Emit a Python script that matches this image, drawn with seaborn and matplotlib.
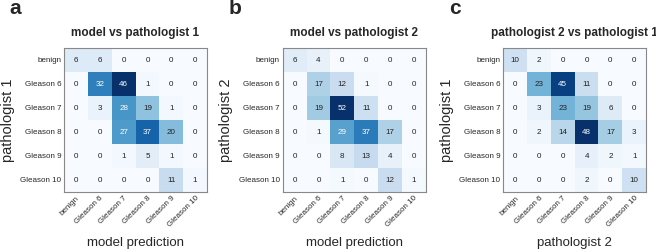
import matplotlib
matplotlib.use("Agg")
import matplotlib.pyplot as plt
import numpy as np
import seaborn as sns

# %% data
grades = ["benign", "Gleason 6", "Gleason 7", "Gleason 8", "Gleason 9", "Gleason 10"]

model_vs_path1 = [
    [6, 6, 0, 0, 0, 0],
    [0, 32, 46, 1, 0, 0],
    [0, 3, 28, 19, 1, 0],
    [0, 0, 27, 37, 20, 0],
    [0, 0, 1, 5, 1, 0],
    [0, 0, 0, 0, 11, 1],
]
model_vs_path2 = [
    [6, 4, 0, 0, 0, 0],
    [0, 17, 12, 1, 0, 0],
    [0, 19, 52, 11, 0, 0],
    [0, 1, 29, 37, 17, 0],
    [0, 0, 8, 13, 4, 0],
    [0, 0, 1, 0, 12, 1],
]
path2_vs_path1 = [
    [10, 2, 0, 0, 0, 0],
    [0, 23, 45, 11, 0, 0],
    [0, 3, 23, 19, 6, 0],
    [0, 2, 14, 48, 17, 3],
    [0, 0, 0, 4, 2, 1],
    [0, 0, 0, 2, 0, 10],
]

panels = [
    ("a", "model vs pathologist 1", model_vs_path1, "model prediction", "pathologist 1"),
    ("b", "model vs pathologist 2", model_vs_path2, "model prediction", "pathologist 2"),
    ("c", "pathologist 2 vs pathologist 1", path2_vs_path1, "pathologist 2", "pathologist 1"),
]

# %% plot
sns.set_style("white")
plt.rcParams["font.family"] = ["Liberation Sans", "DejaVu Sans"]

fig = plt.figure(figsize=(6.56, 2.52), dpi=100)
lefts = [0.0976, 0.431, 0.767]

for left, (letter, title, mat, xlab, ylab) in zip(lefts, panels):
    ax = fig.add_axes([left, 0.238, 0.218, 0.571])
    cm = np.array(mat)
    sns.heatmap(
        cm, ax=ax, cmap="Blues", vmin=0, vmax=cm.max(), annot=True, fmt="d",
        cbar=False, xticklabels=grades, yticklabels=grades,
        annot_kws={"fontsize": 5.8},
    )
    # white numbers on the dark half of the scale
    thresh = cm.max() / 2
    for t in ax.texts:
        t.set_color("white" if int(t.get_text()) > thresh else "#222222")
    for s in ax.spines.values():
        s.set_visible(True)
        s.set_color("#888888")
        s.set_linewidth(0.8)
    ax.tick_params(length=0, labelsize=5.8, pad=2)
    plt.setp(ax.get_xticklabels(), rotation=45, ha="right", rotation_mode="anchor")
    plt.setp(ax.get_yticklabels(), rotation=0)
    ax.set_xlabel(xlab, fontsize=9.5, labelpad=6)
    ax.set_ylabel(ylab, fontsize=10.5, labelpad=4)
    ax.set_title(title, fontsize=8.5, fontweight="bold", pad=9)
    fig.text(left - 0.083, 0.965, letter, fontsize=15, fontweight="bold", va="center")

fig.savefig("out.png", dpi=100)
